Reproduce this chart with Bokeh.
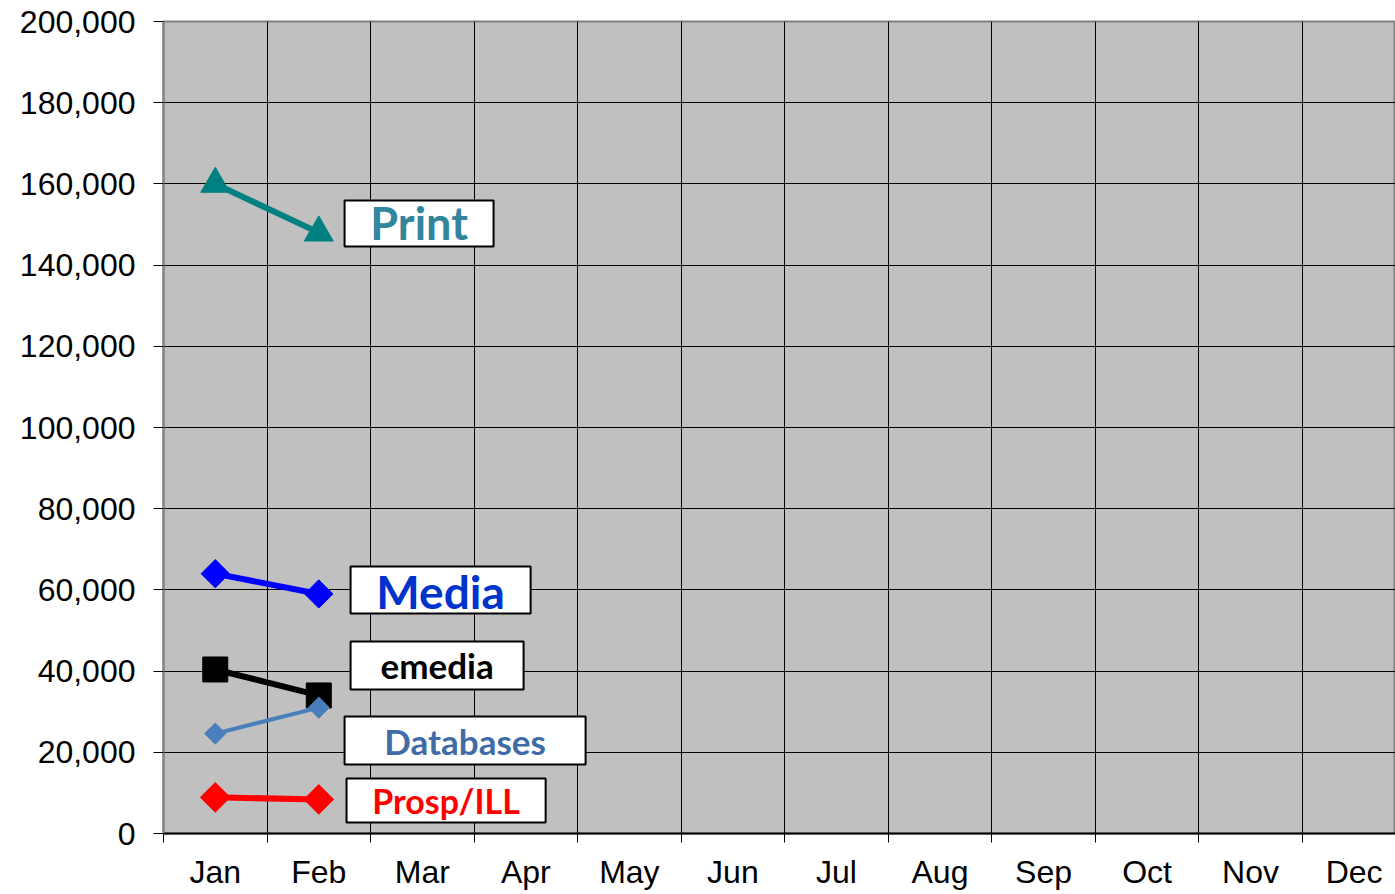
import math
from bokeh.plotting import figure
from bokeh.models import (Range1d, FixedTicker, NumeralTickFormatter, Label, BoxAnnotation)
from bokeh.embed import file_html
from bokeh.resources import INLINE

months = ["Jan", "Feb", "Mar", "Apr", "May", "Jun", "Jul", "Aug", "Sep", "Oct", "Nov", "Dec"]
data_months = ["Jan", "Feb"]
print_vals = [160000, 148000]
media_vals = [64000, 59000]
emedia_vals = [40400, 34000]
db_vals = [24600, 31000]
prosp_vals = [8900, 8400]
y_ticks = list(range(0, 200001, 20000))

xs = [months.index(m) + 0.5 for m in data_months]

p = figure(width=1395, height=894, output_backend="svg", toolbar_location=None,
           x_range=Range1d(0, 11.9), y_range=Range1d(0, 200000),
           min_border_left=163, min_border_right=0, min_border_top=21, min_border_bottom=61)
p.background_fill_color = "#C0C0C0"
p.border_fill_color = "white"
p.outline_line_color = "#808080"
p.outline_line_width = 2

# y axis
p.yaxis.ticker = FixedTicker(ticks=y_ticks)
p.yaxis.formatter = NumeralTickFormatter(format="0,0")
p.yaxis.major_label_text_font = "Liberation Sans"
p.yaxis.major_label_text_font_size = "32px"
p.yaxis.major_label_text_color = "black"
p.yaxis.major_tick_out = 10
p.yaxis.major_tick_in = 0
p.yaxis.major_tick_line_color = "black"
p.yaxis.minor_tick_line_color = None
p.yaxis.axis_line_color = "#808080"
p.yaxis.axis_line_width = 2
p.yaxis.major_label_standoff = 18

# x axis
centers = [i + 0.5 for i in range(len(months))]
bounds = list(range(len(months) + 1))
p.xaxis.ticker = FixedTicker(ticks=centers, minor_ticks=bounds)
p.xaxis.major_label_overrides = {c: m for c, m in zip(centers, months)}
p.xaxis.major_label_text_font = "Liberation Sans"
p.xaxis.major_label_text_font_size = "32px"
p.xaxis.major_label_text_color = "black"
p.xaxis.major_tick_line_color = None
p.xaxis.major_tick_out = 9
p.xaxis.minor_tick_out = 9
p.xaxis.minor_tick_in = 0
p.xaxis.minor_tick_line_color = "black"
p.xaxis.axis_line_color = "black"
p.xaxis.axis_line_width = 2
p.xaxis.major_label_standoff = 11

# grid
p.xgrid.ticker = FixedTicker(ticks=bounds[1:-1])
p.xgrid.grid_line_color = "black"
p.xgrid.grid_line_width = 1
p.ygrid.ticker = FixedTicker(ticks=y_ticks)
p.ygrid.grid_line_color = "black"
p.ygrid.grid_line_width = 1

# series
p.line(xs, print_vals, line_color="#008080", line_width=6)
p.scatter(xs, print_vals, marker="triangle", size=29, fill_color="#008080", line_color="#008080")

p.line(xs, media_vals, line_color="#0000FF", line_width=6)
p.scatter(xs, media_vals, marker="square", angle=math.pi / 4, size=20, fill_color="#0000FF", line_color="#0000FF")

p.line(xs, emedia_vals, line_color="black", line_width=6)
p.scatter(xs, emedia_vals, marker="square", size=25, fill_color="black", line_color="black")

p.line(xs, db_vals, line_color="#4A7EBB", line_width=4)
p.scatter(xs, db_vals, marker="square", angle=math.pi / 4, size=15, fill_color="#4A7EBB", line_color="#4A7EBB")

p.line(xs, prosp_vals, line_color="#FF0000", line_width=6)
p.scatter(xs, prosp_vals, marker="square", angle=math.pi / 4, size=21, fill_color="#FF0000", line_color="#FF0000")

# labels (boxes + text)
labels = [
    ("Print", "#31859C", "45px", (1.749, 3.188, 144600, 155900), (2.469, 150300)),
    ("Media", "#0033CC", "46px", (1.807, 3.546, 54200, 65760), (2.676, 59700)),
    ("emedia", "black", "35px", (1.807, 3.478, 35470, 47290), (2.643, 41500)),
    ("Databases", "#3F6CA6", "35px", (1.749, 4.077, 17000, 28820), (2.913, 22900)),
    ("Prosp/ILL", "#FF0000", "34px", (1.768, 3.691, 2710, 13550), (2.729, 8100)),
]
for text, color, fs, (l, r, b, t), (cx, cy) in labels:
    p.add_layout(BoxAnnotation(left=l, right=r, bottom=b, top=t, fill_color="white", fill_alpha=1.0,
                               line_color="black", line_alpha=1.0, line_width=2, level="annotation"))
    p.add_layout(Label(x=cx, y=cy, text=text, text_color=color, text_font="Lato", text_font_style="bold",
                       text_font_size=fs, text_align="center", text_baseline="middle"))

open("out.html", "w").write(file_html(p, INLINE))
